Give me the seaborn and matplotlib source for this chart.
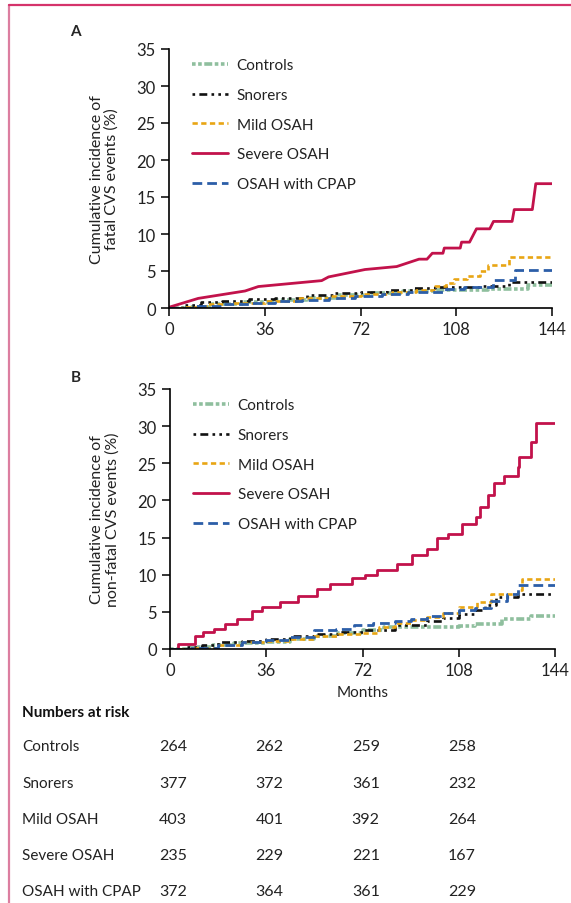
import matplotlib
matplotlib.use("Agg")
import matplotlib.pyplot as plt
import matplotlib.transforms as mtransforms
from matplotlib.lines import Line2D
import seaborn as sns
import pandas as pd

# ---- data ----
groups = ["Controls", "Snorers", "Mild OSAH", "Severe OSAH", "OSAH with CPAP"]

# panel A: fatal CVS events (months, cumulative %)
controls_a_m = [0, 8, 16, 28, 40, 52, 64, 76, 88, 100, 112, 120, 135, 144]
controls_a_v = [0, 0.2, 0.5, 0.8, 1.1, 1.4, 1.7, 2.0, 2.3, 2.5, 2.5, 2.6, 3.1, 3.1]
snorers_a_m = [0, 5, 12, 20, 30, 40, 52, 62, 72, 82, 92, 100, 110, 118, 128, 144]
snorers_a_v = [0, 0.4, 0.8, 1.0, 1.2, 1.4, 1.7, 2.0, 2.2, 2.5, 2.7, 2.8, 2.9, 3.0, 3.5, 3.5]
mild_a_m = [0, 6, 14, 24, 36, 48, 60, 72, 84, 93, 100, 104, 107, 112, 117, 120, 128, 144]
mild_a_v = [0, 0.2, 0.5, 0.7, 1.0, 1.3, 1.6, 1.9, 2.2, 2.5, 3.0, 3.4, 3.9, 4.3, 5.0, 5.8, 6.9, 6.9]
# severe OSAH in panel A is traced point by point (rises smoothly early, steps later)
severe_a_m = [0, 11, 28.6, 33.6, 57.4, 60, 73.7, 85.6, 94, 97, 99, 103, 103.5, 109.5, 110, 113, 115.6,
              120.6, 122, 129, 129.8, 136.6, 137.9, 144]
severe_a_v = [0.1, 1.3, 2.3, 2.9, 3.7, 4.2, 5.2, 5.6, 6.6, 6.6, 7.4, 7.4, 8.1, 8.1, 8.9, 8.9, 10.7,
              10.7, 11.7, 11.7, 13.3, 13.3, 16.8, 16.8]
cpap_a_m = [0, 10, 20, 30, 40, 50, 60, 70, 80, 90, 104, 111, 122, 130, 144]
cpap_a_v = [0, 0.3, 0.5, 0.7, 0.9, 1.1, 1.4, 1.6, 1.9, 2.1, 2.6, 2.9, 3.8, 5.2, 5.2]

# panel B: non-fatal CVS events
controls_b_m = [0, 8, 16, 24, 36, 45, 54, 63, 72, 80, 96, 108, 114, 124, 135, 144]
controls_b_v = [0, 0.3, 0.6, 0.8, 0.9, 1.3, 1.8, 2.2, 2.5, 2.9, 2.9, 3.15, 3.4, 4.05, 4.5, 4.5]
snorers_b_m = [0, 6, 12, 18, 27, 36, 45, 54, 63, 72, 84, 96, 102, 108, 114, 118, 122, 130, 144]
snorers_b_v = [0, 0.3, 0.6, 0.9, 1.1, 1.35, 1.7, 2.0, 2.3, 2.5, 3.2, 3.8, 4.2, 4.7, 5.3, 5.9, 7.0, 7.4, 7.4]
mild_b_m = [0, 8, 18, 27, 36, 45, 54, 63, 72, 78, 84, 90, 96, 102, 108, 115, 120, 130, 131.5, 144]
mild_b_v = [0, 0.2, 0.6, 0.9, 1.1, 1.4, 1.8, 2.0, 2.1, 2.9, 3.5, 3.9, 4.3, 4.9, 5.6, 6.3, 7.4, 7.9, 9.4, 9.4]
severe_b_m = [0, 3, 9.4, 12.5, 16.3, 20.6, 25, 30.6, 34.4, 41.3, 48, 55, 60, 68, 73, 77.5, 85, 90.6, 96,
              100, 103.8, 109.4, 114.4, 116, 119, 121, 125, 130, 130.6, 135, 137, 144]
severe_b_v = [0, 0.7, 1.7, 2.25, 2.7, 3.3, 4.05, 5.1, 5.6, 6.3, 7.2, 8.1, 8.8, 9.6, 10.0, 10.6, 11.5, 12.7, 13.5,
              14.9, 15.5, 16.8, 17.8, 19.1, 20.7, 22.3, 23.3, 24.5, 25.9, 27.9, 30.4, 30.4]
cpap_b_m = [0, 8, 18, 27, 36, 45, 54, 62, 69, 76, 84, 90, 96, 102, 108, 114, 120, 126, 130, 144]
cpap_b_v = [0, 0.2, 0.6, 0.9, 1.2, 1.6, 2.5, 2.7, 3.2, 3.5, 3.8, 4.0, 4.4, 4.8, 5.2, 5.5, 6.5, 7.4, 8.6, 8.6]

risk_months = [0, 36, 72, 108]
risk_controls = [264, 262, 259, 258]
risk_snorers = [377, 372, 361, 232]
risk_mild = [403, 401, 392, 264]
risk_severe = [235, 229, 221, 167]
risk_cpap = [372, 364, 361, 229]

# ---- styling ----
sns.set_style("white")
plt.rcParams["font.family"] = ["Lato", "DejaVu Sans"]

colors = {
    "Controls": "#8fbf9e",
    "Snorers": "#111111",
    "Mild OSAH": "#e8a514",
    "Severe OSAH": "#c2124b",
    "OSAH with CPAP": "#2c5ea8",
}
dashes = {
    "Controls": (1.0, 0.7, 1.0, 0.7, 2.2, 0.7),
    "Snorers": (1.0, 1.6, 3.0, 1.6, 1.0, 1.6),
    "Mild OSAH": (2.0, 1.3),
    "Severe OSAH": None,
    "OSAH with CPAP": (3.5, 1.8),
}
widths = {"Controls": 2.6, "Snorers": 1.9, "Mild OSAH": 1.9, "Severe OSAH": 2.0, "OSAH with CPAP": 2.0}

panel_a = {
    "Controls": (controls_a_m, controls_a_v),
    "Snorers": (snorers_a_m, snorers_a_v),
    "Mild OSAH": (mild_a_m, mild_a_v),
    "Severe OSAH": (severe_a_m, severe_a_v),
    "OSAH with CPAP": (cpap_a_m, cpap_a_v),
}
panel_b = {
    "Controls": (controls_b_m, controls_b_v),
    "Snorers": (snorers_b_m, snorers_b_v),
    "Mild OSAH": (mild_b_m, mild_b_v),
    "Severe OSAH": (severe_b_m, severe_b_v),
    "OSAH with CPAP": (cpap_b_m, cpap_b_v),
}
# the traced severe curve in A is drawn point to point, everything else as steps
traced = {("A", "Severe OSAH")}

W, H = 571, 904
fig = plt.figure(figsize=(W / 100, H / 100), dpi=100, facecolor="white")


def px_axes(x0, y0, x1, y1):
    return fig.add_axes([x0 / W, 1 - y1 / H, (x1 - x0) / W, (y1 - y0) / H])


ax_a = px_axes(169, 50, 552, 309)
ax_b = px_axes(170, 390, 555, 650)


def draw_panel(ax, name, panel, ylabel):
    handles = []
    for g in groups:
        m, v = panel[g]
        df = pd.DataFrame({"month": m, "value": v})
        ds = "default" if (name, g) in traced else "steps-post"
        sns.lineplot(data=df, x="month", y="value", ax=ax, color=colors[g], linewidth=widths[g],
                     drawstyle=ds, estimator=None, sort=False, legend=False)
        line = ax.lines[-1]
        if dashes[g] is not None:
            line.set_dashes(dashes[g])
        h = Line2D([], [], color=colors[g], linewidth=widths[g])
        if dashes[g] is not None:
            h.set_dashes(dashes[g])
        handles.append(h)

    ax.set_xlim(0, 144)
    ax.set_ylim(0, 35)
    ax.set_xticks([0, 36, 72, 108, 144])
    ax.set_yticks(range(0, 36, 5))
    ax.tick_params(axis="both", direction="out", length=6, width=1.1, labelsize=12,
                   color="black", labelcolor="#222222", left=True, bottom=True)
    for s in ["top", "right"]:
        ax.spines[s].set_visible(False)
    for s in ["left", "bottom"]:
        ax.spines[s].set_color("black")
        ax.spines[s].set_linewidth(1.2)
    ax.set_xlabel("")
    ax.set_ylabel(ylabel, fontsize=11.5, color="#222222", linespacing=1.1)
    ax.yaxis.set_label_coords(-0.13, 0.5)
    ax.legend(handles, groups, loc="upper left", bbox_to_anchor=(0.035, 1.0), frameon=False,
              fontsize=11, handlelength=2.4, handletextpad=0.55, labelspacing=1.03,
              borderaxespad=0.2, labelcolor="#222222")


draw_panel(ax_a, "A", panel_a, "Cumulative incidence of\nfatal CVS events (%)")
draw_panel(ax_b, "B", panel_b, "Cumulative incidence of\nnon-fatal CVS events (%)")
ax_b.set_xlabel("Months", fontsize=11, color="#222222", labelpad=5)

fig.text(75 / W, 1 - 32 / H, "A", fontsize=11, fontweight="bold", ha="center", va="center")
fig.text(76 / W, 1 - 378 / H, "B", fontsize=11, fontweight="bold", ha="center", va="center")

# numbers at risk table
fig.text(22 / W, 1 - 713 / H, "Numbers at risk", fontsize=11, fontweight="bold", va="center",
         color="#111111")
risk_rows = [risk_controls, risk_snorers, risk_mild, risk_severe, risk_cpap]
row_y = [747, 784, 820, 856, 892]
trans = mtransforms.blended_transform_factory(ax_b.transData, fig.transFigure)
for g, counts, yy in zip(groups, risk_rows, row_y):
    fig.text(22 / W, 1 - yy / H, g, fontsize=11, va="center", color="#222222")
    for mo, n in zip(risk_months, counts):
        fig.text(mo + 1.2, 1 - yy / H, str(n), fontsize=11.5, va="center", ha="center",
                 color="#222222", transform=trans)

# pink frame lines at top and left
fig.add_artist(Line2D([9 / W, 9 / W], [0, 1 - 6 / H], transform=fig.transFigure,
                      color="#dc7ea0", linewidth=1.6))
fig.add_artist(Line2D([9 / W, 1], [1 - 6 / H, 1 - 6 / H], transform=fig.transFigure,
                      color="#d5336b", linewidth=1.6))

fig.savefig("out.png", dpi=100, facecolor="white")
